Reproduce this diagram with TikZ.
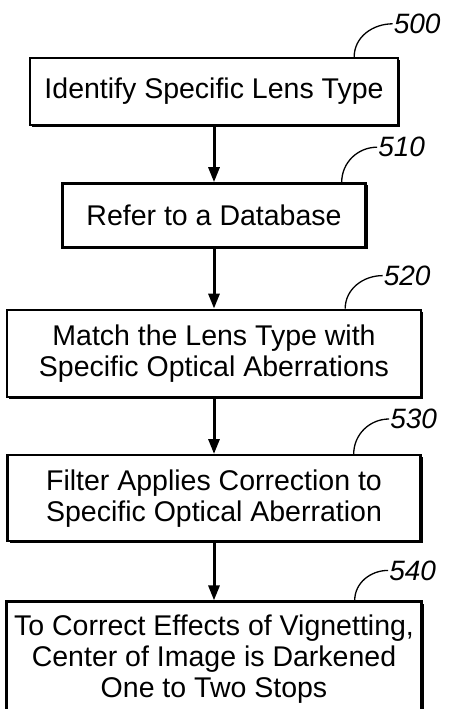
\documentclass[tikz,border=0pt]{standalone}
\usepackage{fontspec}
\setmainfont{Liberation Sans}
\usepackage{tikz}
\usetikzlibrary{arrows.meta, positioning, calc, shadows}
\tikzset{
  stepbox/.style={rectangle, draw=black, fill=white, line width=2.4pt,
    align=center, inner sep=0pt, font=\fontsize{28.5}{31}\selectfont,
    drop shadow={shadow xshift=2pt, shadow yshift=-2pt, opacity=1, fill=black}},
  reflabel/.style={font=\fontsize{28}{30}\selectfont\itshape, inner sep=1pt},
  arrow/.style={-{Triangle[length=15pt, width=11pt]}, line width=3pt},
  leader/.style={line width=1.3pt}
}
\begin{document}
\begin{tikzpicture}[x=1pt, y=1pt]
  \useasboundingbox (0,0) rectangle (448,-709);

  % Steps
  \node[stepbox, minimum width=368pt, minimum height=67pt] (b500) at (214,-91.5)
    {Identify Specific Lens Type};
  \node[stepbox, minimum width=303pt, minimum height=64pt, below=56pt of b500] (b510)
    {Refer to a Database};
  \node[stepbox, minimum width=414pt, minimum height=87pt, below=60pt of b510] (b520)
    {Match the Lens Type with\\Specific Optical Aberrations};
  \node[stepbox, minimum width=413pt, minimum height=86pt, below=56pt of b520] (b530)
    {Filter Applies Correction to\\Specific Optical Aberration};
  \node[stepbox, minimum width=415pt, minimum height=115pt, below=58pt of b530] (b540)
    {To Correct Effects of Vignetting,\\Center of Image is Darkened\\One to Two Stops};

  % Reference numerals
  \node[reflabel] (l500) at ($(b500.north east)+(18,33)$) {500};
  \node[reflabel] (l510) at ($(b510.north east)+(35,35)$) {510};
  \node[reflabel] (l520) at ($(b520.north east)+(-15,33)$) {520};
  \node[reflabel] (l530) at ($(b530.north east)+(-8,35)$) {530};
  \node[reflabel] (l540) at ($(b540.north east)+(-10,30)$) {540};

  \coordinate (t500) at ($(b500.north east)+(-45,0)$);
  \coordinate (t510) at ($(b510.north east)+(-25,0)$);
  \coordinate (t520) at ($(b520.north east)+(-77,0)$);
  \coordinate (t530) at ($(b530.north east)+(-68,0)$);
  \coordinate (t540) at ($(b540.north east)+(-68,0)$);

  \draw[leader] (t500) to[out=90, in=180] (l500.west);
  \draw[leader] (t510) to[out=90, in=180] (l510.west);
  \draw[leader] (t520) to[out=90, in=180] (l520.west);
  \draw[leader] (t530) to[out=90, in=180] (l530.west);
  \draw[leader] (t540) to[out=90, in=180] (l540.west);

  % Flow
  \draw[arrow] (b500) -- (b510);
  \draw[arrow] (b510) -- (b520);
  \draw[arrow] (b520) -- (b530);
  \draw[arrow] (b530) -- (b540);
\end{tikzpicture}
\end{document}
